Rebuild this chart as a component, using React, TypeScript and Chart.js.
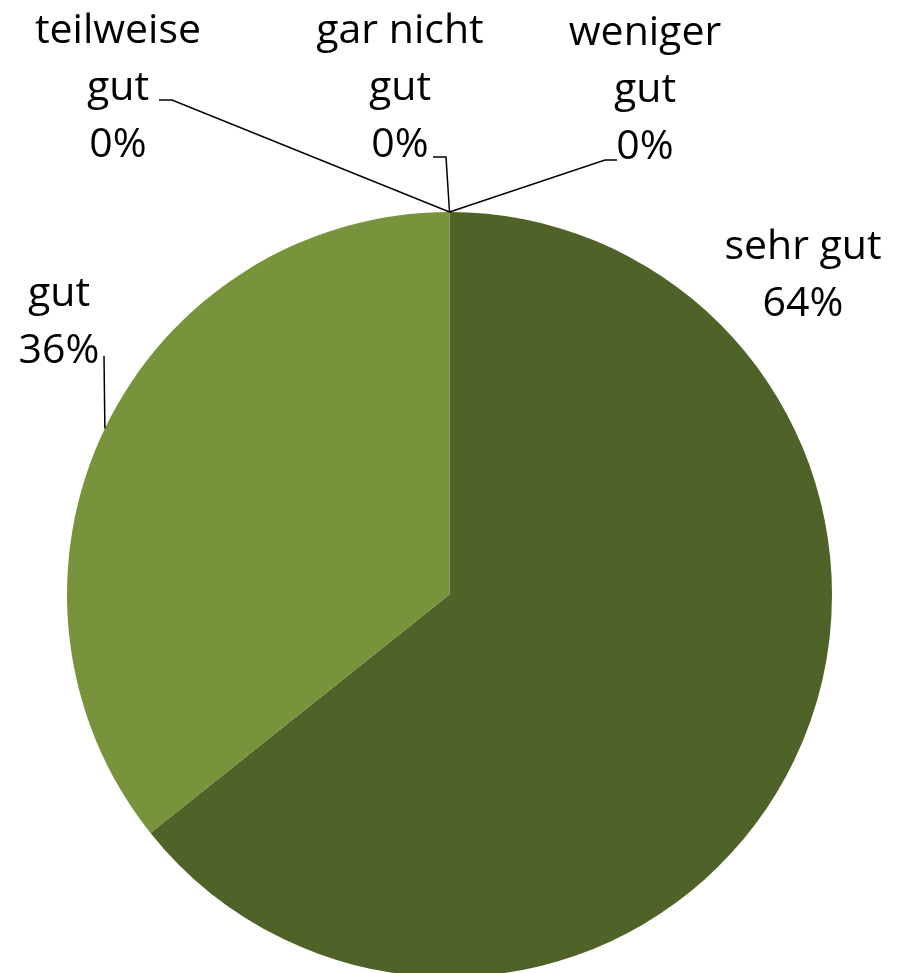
import React, { useEffect, useRef } from "react";
import { Chart, registerables } from "chart.js";

Chart.register(...registerables);

const categories = ["sehr gut", "gut", "teilweise gut", "gar nicht gut", "weniger gut"];
const values = [9, 5, 0, 0, 0];
const labelLines = [["sehr gut"], ["gut"], ["teilweise", "gut"], ["gar nicht", "gut"], ["weniger", "gut"]];
const colors = ["#4F6228", "#77933C", "#9BBB59", "#C3D69B", "#D7E4BD"];

// label layout: centre x, first baseline y, optional stub for leader line
const labelLayout = [
  { x: 803, y: 259, stub: null as null | number[] },
  { x: 59, y: 306, stub: [104, 356, 104, 356] },
  { x: 118, y: 43, stub: [159, 100, 172, 100] },
  { x: 400, y: 43, stub: [433, 157, 446, 157] },
  { x: 645, y: 45, stub: [617, 160, 605, 160] },
];

const labelPlugin = {
  id: "pieLabels",
  afterDraw(chart: any) {
    const ctx = chart.ctx;
    const meta = chart.getDatasetMeta(0);
    const total = values.reduce((a, b) => a + b, 0);
    ctx.save();
    ctx.font = '41px "Open Sans"';
    ctx.fillStyle = "#000";
    ctx.textAlign = "center";
    ctx.textBaseline = "alphabetic";
    meta.data.forEach((arc: any, i: number) => {
      const lay = labelLayout[i];
      const pct = Math.round((values[i] / total) * 100) + "%";
      const lines = [...labelLines[i], pct];
      lines.forEach((t, k) => ctx.fillText(t, lay.x, lay.y + k * 57));
      if (lay.stub) {
        const p = arc.getProps(["x", "y", "startAngle", "endAngle", "outerRadius"], true);
        const mid = (p.startAngle + p.endAngle) / 2;
        const ax = p.x + Math.cos(mid) * p.outerRadius;
        const ay = p.y + Math.sin(mid) * p.outerRadius;
        ctx.strokeStyle = "#000";
        ctx.lineWidth = 1.5;
        ctx.beginPath();
        ctx.moveTo(lay.stub[0], lay.stub[1]);
        ctx.lineTo(lay.stub[2], lay.stub[3]);
        ctx.lineTo(ax, ay);
        ctx.stroke();
      }
    });
    ctx.restore();
  },
};

export default function App() {
  const ref = useRef<HTMLCanvasElement>(null);
  useEffect(() => {
    if (!ref.current) return;
    const chart = new Chart(ref.current, {
      type: "pie",
      data: {
        labels: categories,
        datasets: [
          {
            data: values,
            backgroundColor: colors,
            borderWidth: 0,
          },
        ],
      },
      options: {
        responsive: false,
        animation: false,
        devicePixelRatio: 1,
        layout: { padding: { left: 67, right: 66, top: 212, bottom: 23 } },
        plugins: { legend: { display: false }, tooltip: { enabled: false } },
      },
      plugins: [labelPlugin],
    });
    return () => chart.destroy();
  }, []);
  return (
    <div style={{ position: "fixed", left: 0, top: 0, width: 898, height: 973, overflow: "hidden", background: "#fff" }}>
      <canvas ref={ref} width={898} height={1000} style={{ width: 898, height: 1000, display: "block" }} />
    </div>
  );
}
